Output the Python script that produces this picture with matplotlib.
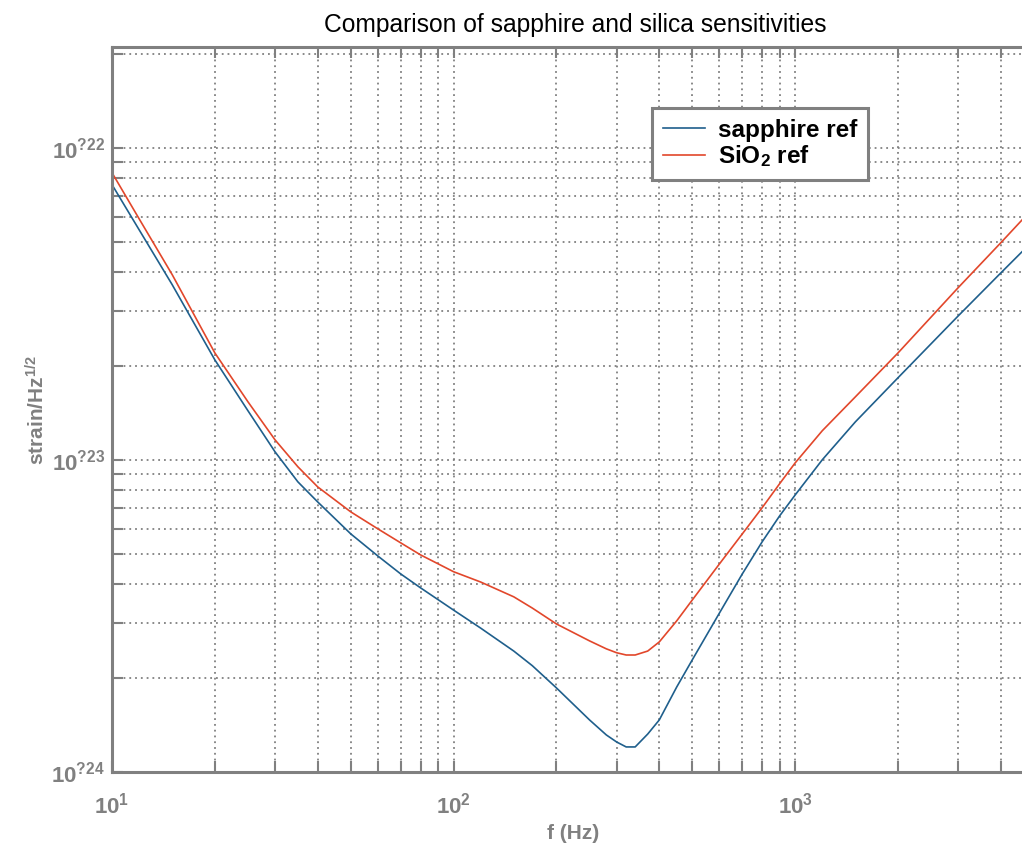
import matplotlib
matplotlib.use("Agg")
import matplotlib.pyplot as plt
from matplotlib.ticker import LogLocator, FixedLocator, NullFormatter
import numpy as np

plt.rcParams['font.family'] = ['Liberation Sans', 'DejaVu Sans']
plt.rcParams['mathtext.fontset'] = 'custom'
plt.rcParams['mathtext.rm'] = 'Liberation Sans'
plt.rcParams['mathtext.it'] = 'Liberation Sans:italic'
plt.rcParams['mathtext.bf'] = 'Liberation Sans:bold'

# ---- data ----
freq = [10, 12, 15, 20, 25, 30, 35, 40, 50, 60, 70, 80, 100, 120, 150, 170, 200,
        250, 280, 300, 320, 340, 370, 400, 450, 500, 600, 700, 800, 900, 1000,
        1200, 1500, 2000, 3000, 4000, 4650]
sapphire = [7.61e-23, 5.46e-23, 3.64e-23, 2.09e-23, 1.436e-23, 1.061e-23,
            8.50e-24, 7.33e-24, 5.79e-24, 4.92e-24, 4.31e-24, 3.89e-24, 3.30e-24,
            2.89e-24, 2.44e-24, 2.19e-24, 1.859e-24, 1.468e-24, 1.314e-24,
            1.248e-24, 1.203e-24, 1.203e-24, 1.323e-24, 1.468e-24, 1.873e-24,
            2.29e-24, 3.23e-24, 4.31e-24, 5.46e-24, 6.61e-24, 7.72e-24,
            1.0e-23, 1.323e-23, 1.832e-23, 2.89e-23, 3.97e-23, 4.68e-23]
silica = [8.31e-23, 5.92e-23, 3.92e-23, 2.20e-23, 1.534e-23, 1.159e-23,
          9.50e-24, 8.19e-24, 6.81e-24, 6.01e-24, 5.42e-24, 4.96e-24, 4.38e-24,
          4.06e-24, 3.64e-24, 3.35e-24, 2.98e-24, 2.63e-24, 2.48e-24,
          2.41e-24, 2.37e-24, 2.37e-24, 2.44e-24, 2.61e-24, 3.05e-24,
          3.56e-24, 4.64e-24, 5.79e-24, 7.02e-24, 8.38e-24, 9.78e-24,
          1.239e-23, 1.591e-23, 2.20e-23, 3.56e-23, 4.96e-23, 5.92e-23]
series_labels = ['sapphire ref', r'SiO$_{\mathbf{2}}$ ref']
xtick_vals = [10, 100, 1000]
xtick_labels = [r'$\mathbf{10^{1}}$', r'$\mathbf{10^{2}}$', r'$\mathbf{10^{3}}$']
ytick_vals = [1e-24, 1e-23, 1e-22]
ytick_labels = [r'$\mathbf{10^{?24}}$', r'$\mathbf{10^{?23}}$', r'$\mathbf{10^{?22}}$']

GRAY = '#808080'
fig = plt.figure(figsize=(10.22, 8.47), dpi=100)
W, H = 1022, 847
ax = fig.add_axes([112 / W, (H - 772) / H, (1034 - 112) / W, (772 - 47) / H])

ax.plot(freq, sapphire, color='#1f5f8c', lw=1.2, label=series_labels[0])
ax.plot(freq, silica, color='#e2472b', lw=1.2, label=series_labels[1])

ax.set_xscale('log')
ax.set_yscale('log')
ax.set_xlim(10, 5000)
ax.set_ylim(1e-24, 2.1e-22)

ax.xaxis.set_major_locator(FixedLocator(xtick_vals))
ax.yaxis.set_major_locator(FixedLocator(ytick_vals))
ax.xaxis.set_minor_locator(LogLocator(base=10, subs=np.arange(2, 10)))
ax.yaxis.set_minor_locator(LogLocator(base=10, subs=np.arange(2, 10)))
ax.xaxis.set_minor_formatter(NullFormatter())
ax.yaxis.set_minor_formatter(NullFormatter())
ax.set_xticklabels(xtick_labels)
ax.set_yticklabels(ytick_labels)

ax.tick_params(which='both', direction='in', top=True, right=True, color=GRAY,
               width=1.5, labelcolor=GRAY, labelsize=16)
ax.tick_params(which='both', length=8)
ax.tick_params(axis='x', which='major', pad=15)
ax.tick_params(axis='y', which='major', pad=5)

ax.grid(True, which='both', color=GRAY, linestyle=(0, (1, 2.2)), linewidth=1.3)
for s in ax.spines.values():
    s.set_color(GRAY)
    s.set_linewidth(2.2)

ax.set_xlabel('f (Hz)', fontsize=15, fontweight='bold', color=GRAY, labelpad=4)
ax.set_ylabel(r'strain/Hz$^{\mathbf{1/2}}$', fontsize=15, fontweight='bold',
              color=GRAY, labelpad=2)
fig.text(575 / W, 1 - 25 / H, 'Comparison of sapphire and silica sensitivities',
         ha='center', va='center', fontsize=17.7, color='black')

leg = ax.legend(loc='upper left', bbox_to_anchor=((652 - 112) / 922, 1 - (108 - 47) / 725),
                prop={'weight': 'bold', 'size': 17.5}, frameon=True,
                fancybox=False, borderpad=0.45, handlelength=1.75, labelspacing=0.05,
                handletextpad=0.5, borderaxespad=0)
leg.get_frame().set_edgecolor(GRAY)
leg.get_frame().set_linewidth(2.2)
leg.get_frame().set_alpha(1)

fig.savefig('out.png', dpi=100)
